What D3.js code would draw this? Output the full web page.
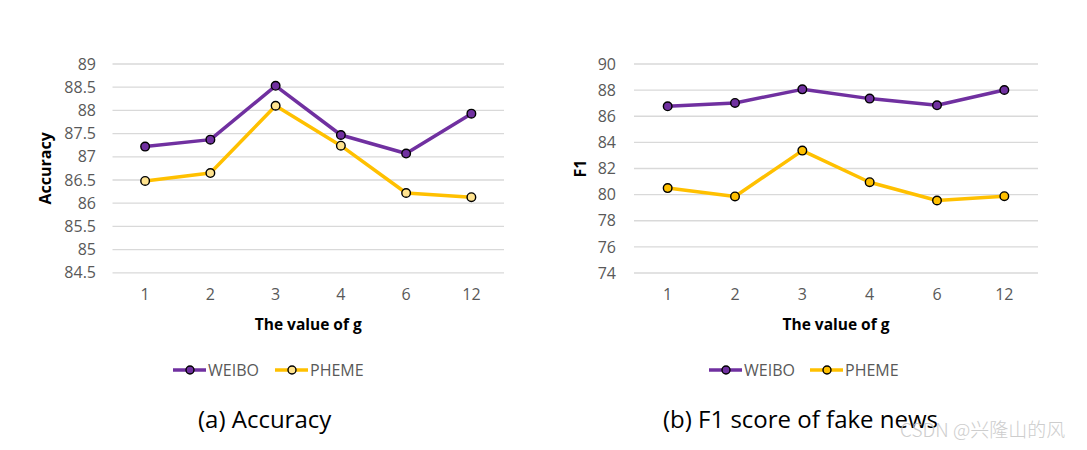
<!DOCTYPE html>
<html>
<head>
<meta charset="utf-8">
<script src="https://cdn.jsdelivr.net/npm/d3@7"></script>
<style>
  html, body { margin: 0; padding: 0; background: #fff; }
  svg { display: block; }
</style>
</head>
<body>
<svg id="chart" width="1087" height="450"></svg>
<script>
const categories = ["1", "2", "3", "4", "6", "12"];
const accWeibo = [87.22, 87.37, 88.53, 87.47, 87.07, 87.93];
const accPheme = [86.48, 86.65, 88.10, 87.24, 86.22, 86.13];
const f1Weibo = [86.76, 87.02, 88.06, 87.35, 86.84, 88.01];
const f1Pheme = [80.50, 79.86, 83.37, 80.95, 79.55, 79.88];
const accTicks = [84.5, 85, 85.5, 86, 86.5, 87, 87.5, 88, 88.5, 89];
const f1Ticks = [74, 76, 78, 80, 82, 84, 86, 88, 90];
const seriesNames = ["WEIBO", "PHEME"];
const captions = ["(a) Accuracy", "(b) F1 score of fake news"];

const PURPLE = "#7030A0", GOLD = "#FFC000", LIGHTGOLD = "#FFE38F";
const FONT = "'Open Sans', 'Liberation Sans', sans-serif";
const svg = d3.select("#chart");

function panel(cfg) {
  const g = svg.append("g");
  const x = d3.scaleBand().domain(categories).range([cfg.x0, cfg.x1]);
  const y = d3.scaleLinear().domain(cfg.domain).range([cfg.y1, cfg.y0]);

  // gridlines
  g.append("g").selectAll("line").data(cfg.ticks).join("line")
    .attr("x1", cfg.x0).attr("x2", cfg.x1)
    .attr("y1", d => y(d)).attr("y2", d => y(d))
    .attr("stroke", "#d9d9d9").attr("stroke-width", 1.3);

  // y axis labels
  const yAxis = d3.axisLeft(y).tickValues(cfg.ticks).tickSize(0).tickPadding(0)
    .tickFormat(d => String(d));
  const ya = g.append("g").attr("transform", `translate(${cfg.ylabX},0)`).call(yAxis);
  ya.select(".domain").remove();
  ya.selectAll("text").attr("fill", "#595959").style("font-family", FONT).style("font-size", "16px");

  // x axis labels
  const xAxis = d3.axisBottom(x).tickSize(0).tickPadding(0);
  const xa = g.append("g").attr("transform", `translate(0,${cfg.xlabY})`).call(xAxis);
  xa.select(".domain").remove();
  xa.selectAll("text").attr("fill", "#595959").style("font-family", FONT).style("font-size", "16px");

  // axis titles
  g.append("text").attr("x", (cfg.x0 + cfg.x1) / 2).attr("y", 329.5)
    .attr("text-anchor", "middle").style("font-family", FONT).style("font-size", "15.5px")
    .style("font-weight", "bold").attr("fill", "#000").text("The value of g");
  g.append("text")
    .attr("transform", `translate(${cfg.ytitleX},${(cfg.y0 + cfg.y1) / 2}) rotate(-90)`)
    .attr("text-anchor", "middle").style("font-family", FONT).style("font-size", "16px")
    .style("font-weight", "bold").attr("fill", "#000").text(cfg.ytitle);

  const line = d3.line().x((d, i) => x(categories[i]) + x.bandwidth() / 2).y(d => y(d));
  const series = [
    { vals: cfg.weibo, color: PURPLE, fill: PURPLE },
    { vals: cfg.pheme, color: GOLD, fill: cfg.phemeFill }
  ];
  series.forEach(s => {
    g.append("path").datum(s.vals).attr("d", line).attr("fill", "none")
      .attr("stroke", s.color).attr("stroke-width", 3.5).attr("stroke-linejoin", "round");
  });
  series.forEach(s => {
    g.append("g").selectAll("circle").data(s.vals).join("circle")
      .attr("cx", (d, i) => x(categories[i]) + x.bandwidth() / 2)
      .attr("cy", d => y(d)).attr("r", 4.3)
      .attr("fill", s.fill).attr("stroke", "#000").attr("stroke-width", 1.4);
  });

  // legend
  const lg = g.append("g");
  const items = [
    { name: seriesNames[0], color: PURPLE, fill: PURPLE, x: cfg.legX },
    { name: seriesNames[1], color: GOLD, fill: cfg.phemeFill, x: cfg.legX + cfg.legGap }
  ];
  items.forEach(it => {
    lg.append("line").attr("x1", it.x).attr("x2", it.x + 33).attr("y1", 370).attr("y2", 370)
      .attr("stroke", it.color).attr("stroke-width", 3.5);
    lg.append("circle").attr("cx", it.x + 17).attr("cy", 370).attr("r", 4)
      .attr("fill", it.fill).attr("stroke", "#000").attr("stroke-width", 1.4);
    lg.append("text").attr("x", it.x + 35).attr("y", 375.5).style("font-family", FONT)
      .style("font-size", "16px").attr("fill", "#595959").text(it.name);
  });

  // caption
  g.append("text").attr("x", cfg.capX).attr("y", 428).style("font-family", FONT)
    .style("font-size", "24px").attr("fill", "#000").text(cfg.caption);
}

panel({
  x0: 112.5, x1: 504, y0: 64, y1: 272.8, domain: [84.5, 89], ticks: accTicks,
  ylabX: 96, xlabY: 289, ytitleX: 51, ytitle: "Accuracy",
  weibo: accWeibo, pheme: accPheme, phemeFill: LIGHTGOLD,
  legX: 173, legGap: 102, caption: captions[0], capX: 198
});
panel({
  x0: 634, x1: 1038, y0: 64, y1: 273, domain: [74, 90], ticks: f1Ticks,
  ylabX: 616, xlabY: 289, ytitleX: 586, ytitle: "F1",
  weibo: f1Weibo, pheme: f1Pheme, phemeFill: GOLD,
  legX: 709, legGap: 101, caption: captions[1], capX: 663
});

// watermark (present in the reference image)
svg.append("text").attr("x", 900).attr("y", 437)
  .style("font-family", "'Noto Sans CJK SC', sans-serif").style("font-size", "19px")
  .style("font-weight", 300).attr("fill", "#c8c8c8").attr("opacity", 0.9).text("CSDN @兴隆山的风");
</script>
</body>
</html>
